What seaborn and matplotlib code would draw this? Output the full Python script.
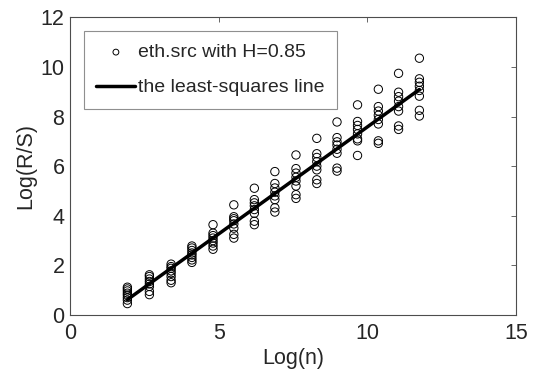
import numpy as np
import pandas as pd
import matplotlib
matplotlib.use('Agg')
import matplotlib.pyplot as plt
import seaborn as sns

# Log(n) の各ブロックサイズ
log_n = [1.93, 2.67, 3.40, 4.10, 4.81, 5.51, 6.20, 6.89,
         7.60, 8.30, 8.98, 9.67, 10.37, 11.05, 11.75]

# 各 n での Log(R/S)
log_rs = [
    [1.12, 1.05, 0.97, 0.88, 0.80, 0.70, 0.60, 0.46],
    [1.62, 1.55, 1.45, 1.35, 1.25, 1.15, 0.95, 0.82],
    [2.05, 1.95, 1.88, 1.78, 1.68, 1.55, 1.40, 1.30],
    [2.78, 2.70, 2.60, 2.50, 2.42, 2.32, 2.22, 2.12],
    [3.64, 3.30, 3.20, 3.10, 3.00, 2.90, 2.78, 2.65],
    [4.44, 3.96, 3.88, 3.80, 3.67, 3.50, 3.25, 3.10],
    [5.11, 4.65, 4.52, 4.40, 4.25, 4.10, 3.78, 3.64],
    [5.78, 5.30, 5.12, 4.95, 4.80, 4.65, 4.32, 4.15],
    [6.45, 5.90, 5.72, 5.55, 5.40, 5.20, 4.85, 4.70],
    [7.12, 6.50, 6.35, 6.18, 6.00, 5.85, 5.45, 5.30],
    [7.78, 7.15, 6.98, 6.85, 6.68, 6.52, 5.92, 5.80],
    [8.47, 7.80, 7.64, 7.48, 7.30, 7.10, 7.02, 6.43],
    [9.10, 8.40, 8.22, 8.05, 7.88, 7.70, 7.02, 6.92],
    [9.74, 8.98, 8.80, 8.62, 8.40, 8.22, 7.62, 7.48],
    [10.35, 9.52, 9.38, 9.22, 9.05, 8.82, 8.25, 8.02],
]

xticks = [0, 5, 10, 15]
yticks = [0, 2, 4, 6, 8, 10, 12]

# long形式に変換
rows = []
for x, ys in zip(log_n, log_rs):
    for y in ys:
        rows.append((x, y))
df = pd.DataFrame(rows, columns=['log_n', 'log_rs'])

sns.set_style('white')
plt.rcParams['font.family'] = ['Liberation Sans', 'DejaVu Sans']

fig = plt.figure(figsize=(5.36, 3.84), dpi=100)
ax = fig.add_axes([0.1306, 0.1797, 0.8321, 0.7753])

sns.scatterplot(data=df, x='log_n', y='log_rs', ax=ax, marker='o',
                facecolors='none', edgecolor='black', s=36, linewidth=0.7,
                label='eth.src with H=0.85')
# 最小二乗直線
sns.regplot(data=df, x='log_n', y='log_rs', ax=ax, scatter=False, ci=None,
            truncate=True, color='black', label='the least-squares line',
            line_kws={'linewidth': 2.5})

ax.set_xlim(0, 15)
ax.set_ylim(0, 12)
ax.set_xticks(xticks)
ax.set_yticks(yticks)
ax.tick_params(direction='in', length=3.5, width=0.6, top=True, right=True,
               labelsize=15.5, color='0.3')
ax.tick_params(axis='x', pad=6)
ax.tick_params(axis='y', pad=4)
for sp in ax.spines.values():
    sp.set_color('0.3')
    sp.set_linewidth(0.8)

ax.set_xlabel('Log(n)', fontsize=15.5, labelpad=3)
ax.set_ylabel('Log(R/S)', fontsize=15.5, labelpad=3)

leg = ax.legend(loc='upper left', bbox_to_anchor=(0.031, 0.954), borderaxespad=0,
                fontsize=14, frameon=True, fancybox=False, edgecolor='0.45',
                handlelength=2.0, handletextpad=0.15, labelspacing=0.9,
                borderpad=0.65, markerscale=0.7)
leg.get_frame().set_linewidth(0.8)

plt.savefig('out.png', dpi=100)
